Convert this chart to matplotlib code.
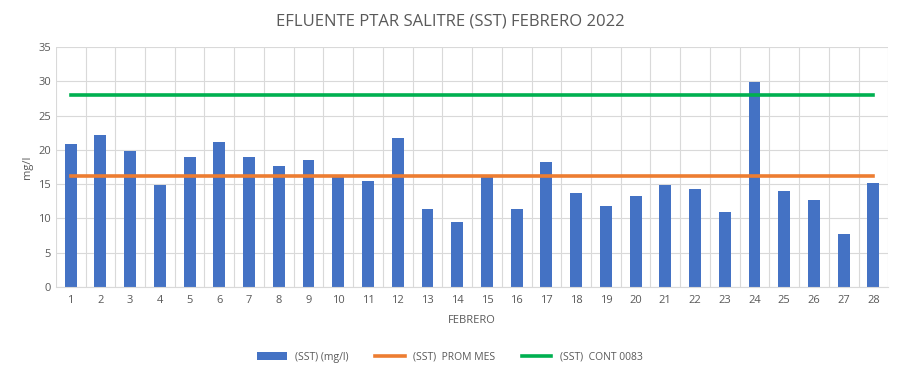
import matplotlib
matplotlib.use("Agg")
import matplotlib.pyplot as plt
import numpy as np

days = list(range(1, 29))
sst = [20.8, 22.1, 19.8, 14.9, 18.9, 21.1, 18.9, 17.7, 18.5, 16.1, 15.5, 21.7, 11.3, 9.4,
       16.1, 11.4, 18.3, 13.7, 11.8, 13.3, 14.8, 14.3, 10.9, 29.9, 14.0, 12.7, 7.7, 15.1]
prom_mes = 16.2
cont = 28.0

plt.rcParams['font.family'] = ['Open Sans', 'DejaVu Sans']
txt = '#595959'

fig = plt.figure(figsize=(9, 3.74), dpi=100)
ax = fig.add_axes([0.062, 0.233, 0.925, 0.641])

b = ax.bar(days, sst, width=0.4, color='#4472C4', label='(SST) (mg/l)', zorder=2)
l1, = ax.plot(days, [prom_mes] * len(days), color='#ED7D31', lw=2.6, label='(SST)  PROM MES', zorder=3)
l2, = ax.plot(days, [cont] * len(days), color='#00B050', lw=2.6, label='(SST)  CONT 0083', zorder=3)

ax.set_xlim(0.5, 28.5)
ax.set_ylim(0, 35)
ax.set_yticks(np.arange(0, 36, 5))
ax.set_xticks(days)
ax.set_xticks(np.arange(0.5, 29, 1), minor=True)
ax.grid(axis='y', which='major', color='#d9d9d9', lw=0.8, zorder=0)
ax.grid(axis='x', which='minor', color='#d9d9d9', lw=0.8, zorder=0)
ax.tick_params(axis='both', which='both', length=0, colors=txt, labelsize=8)
ax.tick_params(axis='x', pad=6)
for s in ['top', 'right', 'left']:
    ax.spines[s].set_visible(False)
ax.spines['bottom'].set_color('#d9d9d9')

ax.set_ylabel('mg/l', color=txt, fontsize=8)
ax.set_xlabel('FEBRERO', color=txt, fontsize=8, labelpad=6)
fig.text(0.5, 0.943, 'EFLUENTE PTAR SALITRE (SST) FEBRERO 2022', ha='center', va='center',
         color=txt, fontsize=12)

leg = fig.legend([b, l1, l2], [b.get_label(), l1.get_label(), l2.get_label()],
                 loc='center', bbox_to_anchor=(0.5, 0.045), ncol=3, frameon=False,
                 fontsize=7.5, handlelength=2.8, columnspacing=2.6)
for t in leg.get_texts():
    t.set_color(txt)

fig.savefig('out.png', dpi=100)
